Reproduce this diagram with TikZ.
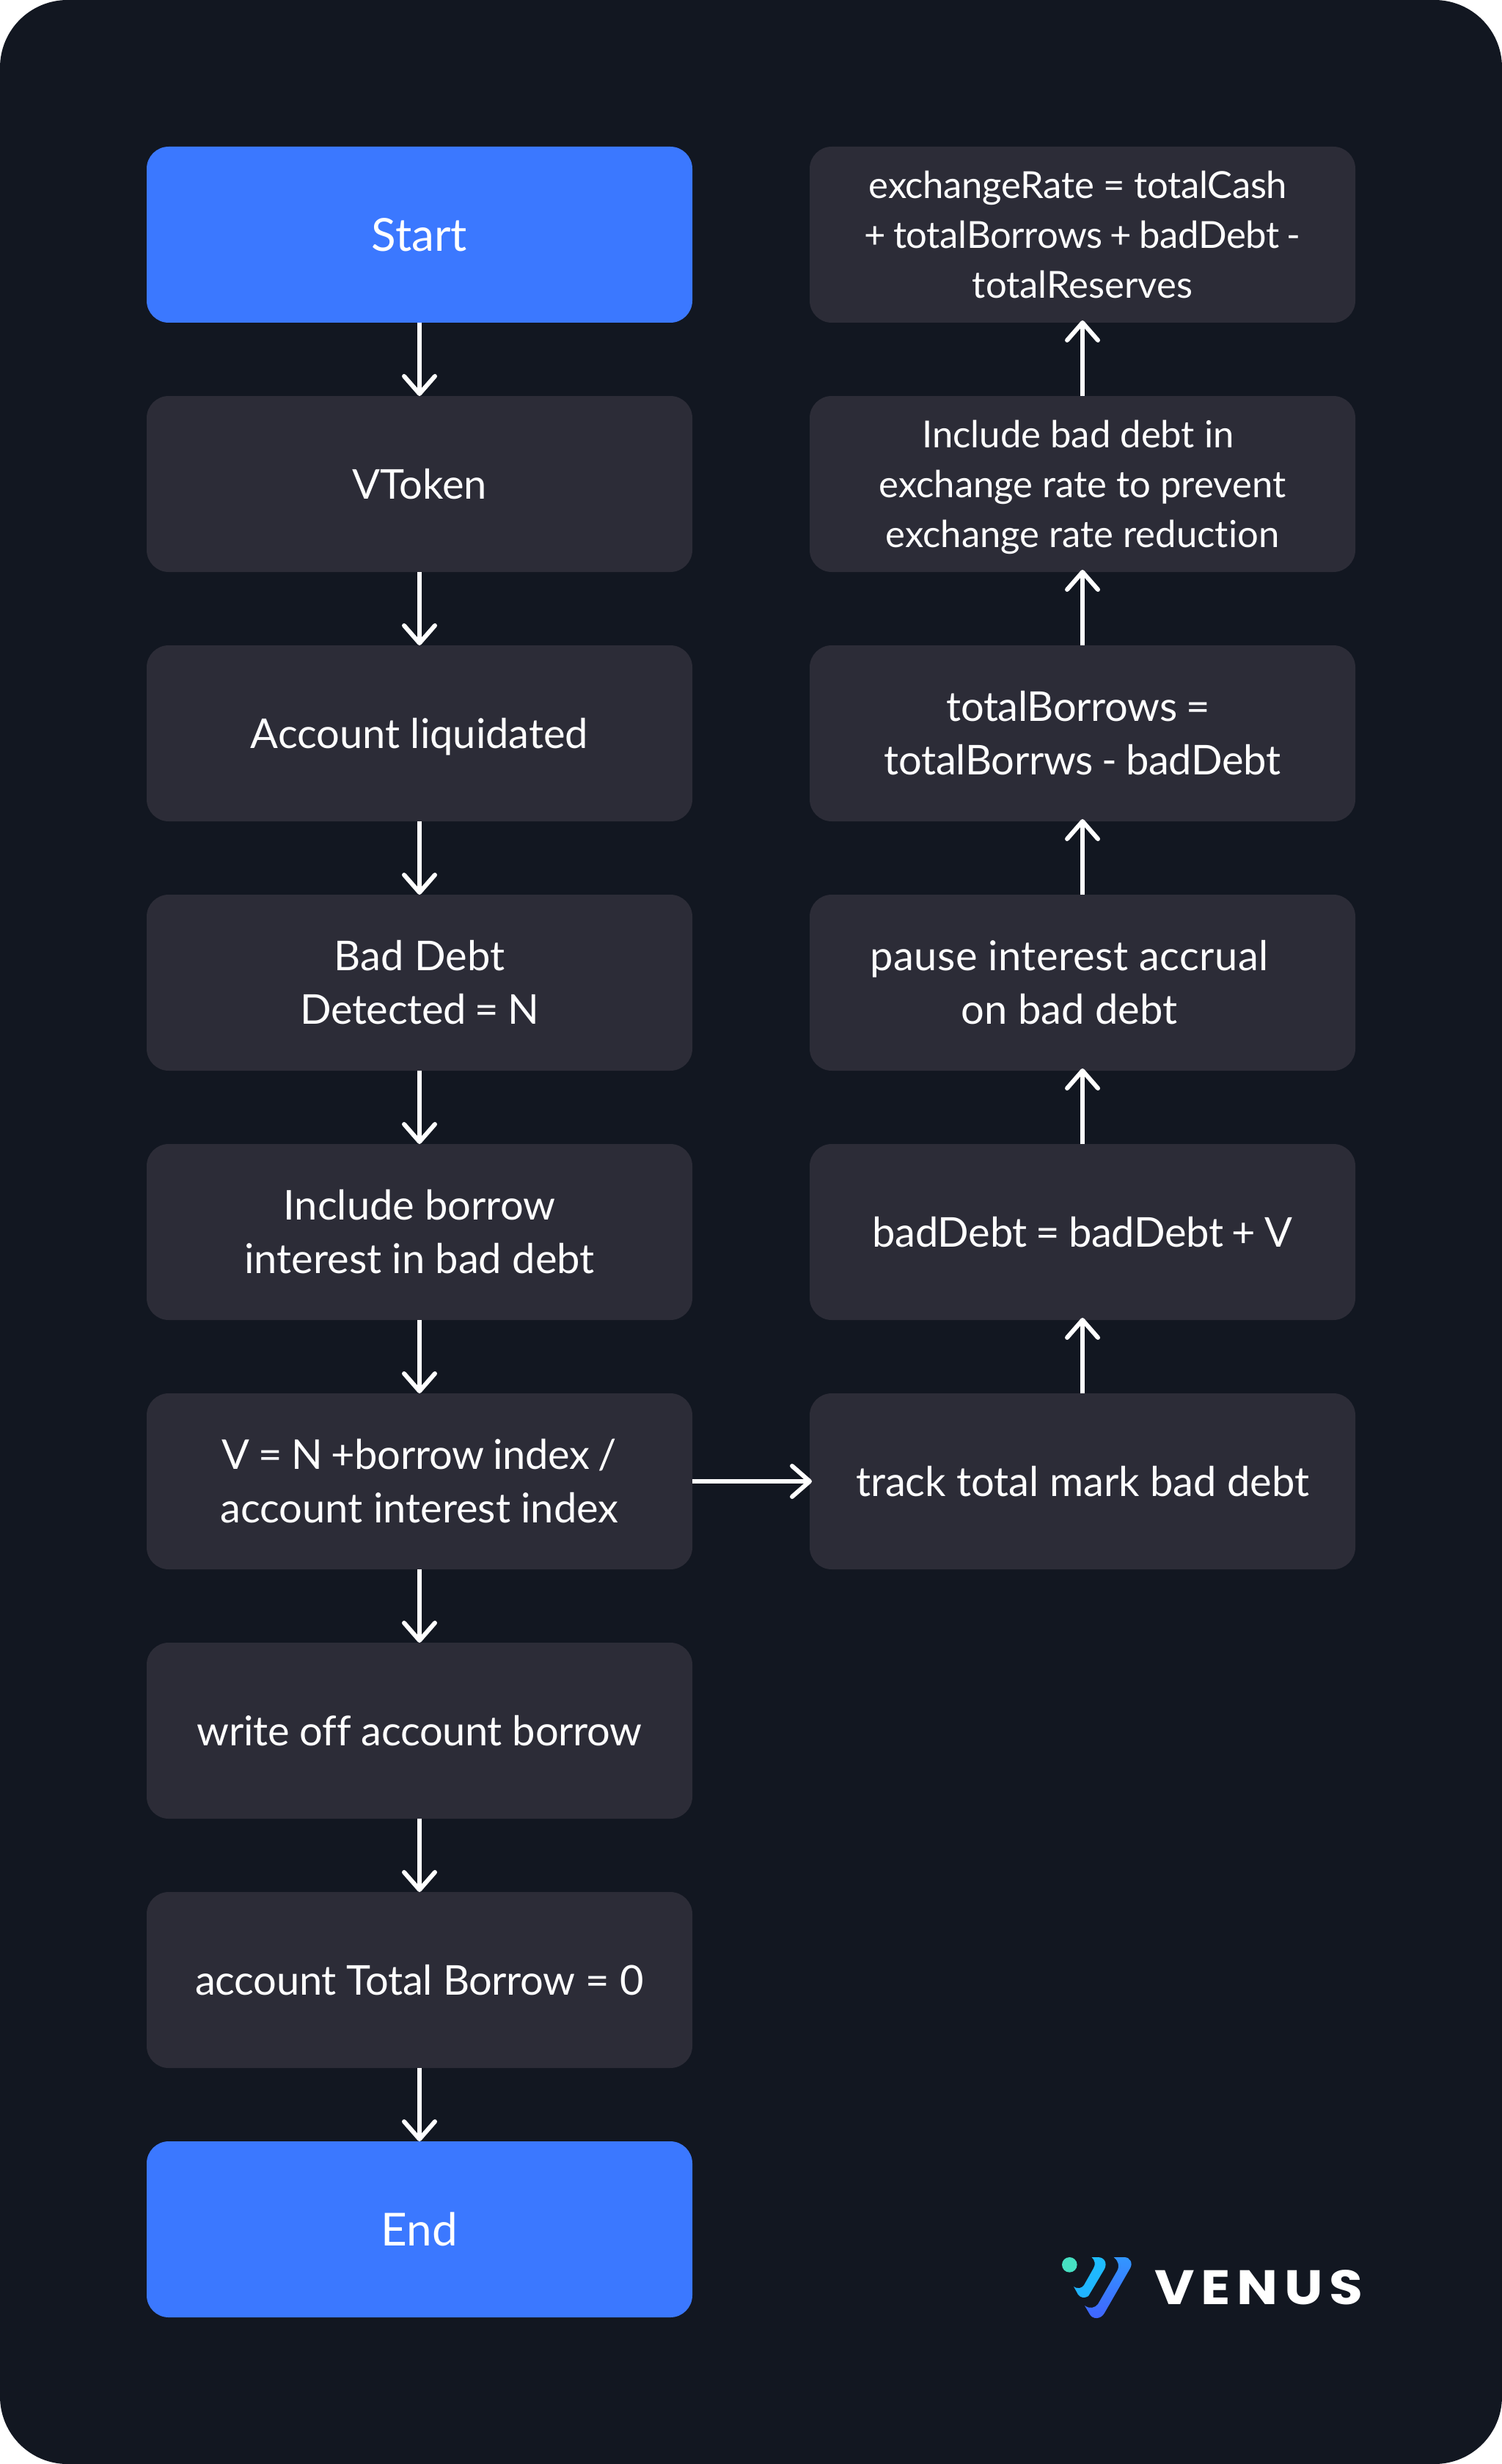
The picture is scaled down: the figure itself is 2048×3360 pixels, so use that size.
\documentclass[tikz,border=0pt]{standalone}
\usepackage{fontspec}
\setmainfont[Ligatures=CommonOff]{Lato}
\newfontfamily\brandfont{Poppins}
\usetikzlibrary{arrows.meta}
\definecolor{bgdark}{HTML}{121721}
\definecolor{boxdark}{HTML}{2C2C37}
\definecolor{blueend}{HTML}{3B78FF}
\newcommand{\nodepth}[1]{\raisebox{0pt}[\height][0pt]{#1}}
\newcommand{\tight}[2][0.85]{{\addfontfeature{LetterSpace=-0.6}\spaceskip=#1\fontdimen2\font\relax #2}}
\tikzset{
  x=0.5pt,y=-0.5pt,
  flowbox/.style={rounded corners=15pt,minimum width=372pt,minimum height=120pt,inner sep=0pt,outer sep=0pt,align=center,text=white,font=\fontsize{28}{36.5}\selectfont,anchor=north west,draw=none},
  stepbox/.style={flowbox,fill=boxdark},
  endbox/.style={flowbox,fill=blueend,font=\fontsize{31}{36.5}\selectfont},
  smallbox/.style={stepbox,font=\fontsize{25.4}{34}\selectfont},
  flow/.style={draw=white,line width=3pt,-{Straight Barb[length=12pt,width=21pt,line width=3pt,round]}},
  flowover/.style={flow,shorten >=-1.5pt},
}
\begin{document}
\begin{tikzpicture}
\useasboundingbox (0,0) rectangle (2048,3360);
\fill[white] (0,0) rectangle (2048,3360);
\fill[bgdark,rounded corners=46pt] (0,0) rectangle (2048,3360);
\node[endbox] (start) at (200,200) {Start};
\node[stepbox] (vtoken) at (200,540) {VToken};
\node[stepbox] (liq) at (200,880) {\nodepth{Account liquidated}};
\node[stepbox] (bad) at (200,1220) {Bad Debt\\\tight{Detected = N}};
\node[stepbox] (incl) at (200,1560) {Include borrow\\interest in bad debt};
\node[stepbox] (v) at (200,1900) {\raisebox{0pt}[0.72em][0pt]{\tight{V = N +borrow index /}}\\account interest index};
\node[stepbox] (write) at (200,2240) {\tight[1]{write off account borrow}};
\node[stepbox] (total) at (200,2580) {\tight[1]{account Total Borrow = 0}};
\node[endbox] (end) at (200,2920) {End};
\node[stepbox] (track) at (1104,1900) {track total mark bad debt};
\node[stepbox] (bd) at (1104,1560) {\tight{badDebt = badDebt + V}};
\node[stepbox] (pause) at (1104,1220) {\addfontfeature{LetterSpace=1}pause interest accrual\hspace*{18pt}\\on bad debt\hspace*{18pt}};
\node[stepbox] (tb) at (1104,880) {\tight{totalBorrows =}\hspace*{6pt}\\\tight{totalBorrws - badDebt}};
\node[smallbox] (inc) at (1104,540) {Include bad debt in\hspace*{6pt}\\exchange rate to prevent\hspace*{6pt}\\\nodepth{exchange rate reduction}};
\node[smallbox] (ex) at (1104,200) {\tight[1]{exchangeRate = totalCash}\hspace*{6pt}\\\tight[0.8]{+ totalBorrows + badDebt -}\hspace*{6pt}\\totalReserves};
\foreach \a/\b in {start/vtoken,vtoken/liq,liq/bad,bad/incl,incl/v,v/write,write/total,total/end}
  \draw[flow] (\a) -- (\b);
\foreach \a/\b in {v/track,track/bd,bd/pause,pause/tb,tb/inc,inc/ex}
  \draw[flowover] (\a) -- (\b);
% logo
\fill[color={rgb,255:red,70;green,224;blue,194}] (1458.3,3088.3) circle[radius=10.3];
\shade[top color={rgb,255:red,30;green,190;blue,255},bottom color={rgb,255:red,32;green,178;blue,255}]
 (1488.5,3078) -- (1497,3078) .. controls (1506,3078) and (1510,3086) .. (1506,3094)
 -- (1484,3131) .. controls (1479,3134) and (1474,3134) .. (1470,3129)
 -- (1464,3118) .. controls (1470,3122) and (1475,3120) .. (1478,3116)
 -- (1491,3093) .. controls (1494,3088) and (1493,3082) .. (1488.5,3078) -- cycle;
\shade[top color={rgb,255:red,50;green,150;blue,255},bottom color={rgb,255:red,64;green,100;blue,255}]
 (1518.5,3078) -- (1533,3078) .. controls (1541,3078) and (1545,3086) .. (1541,3093)
 -- (1506,3154) .. controls (1501,3163) and (1490,3163) .. (1486,3156)
 -- (1479,3144) .. controls (1486,3149) and (1493,3147) .. (1497,3142)
 -- (1523,3097) .. controls (1527,3090) and (1525,3083) .. (1518.5,3078) -- cycle;
\node[anchor=west,inner sep=0pt,text=white,font=\brandfont\fontsize{33}{33}\bfseries\selectfont] (brand) at (1574,3119) {\addfontfeature{LetterSpace=13,FakeStretch=1.13}VENUS};
\end{tikzpicture}
\end{document}
